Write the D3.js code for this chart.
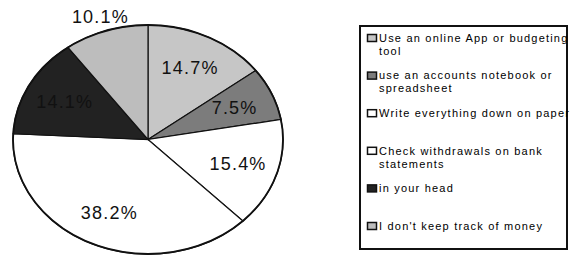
<!DOCTYPE html>
<html>
<head>
<meta charset="UTF-8">
<script src="https://cdn.jsdelivr.net/npm/d3@7/dist/d3.min.js"></script>
<style>
  body { margin: 0; background: #fff; }
  text { font-family: Arial, "Liberation Sans", sans-serif; }
  .slice { stroke: #111; stroke-width: 1.2; vector-effect: non-scaling-stroke; }
  .pct { font-size: 18px; fill: #111; letter-spacing: 1.2px; }
  .leg { font-size: 11px; fill: #000; letter-spacing: 1.2px; }
</style>
</head>
<body>
<svg id="chart" width="570" height="256"></svg>
<script>
  // answers, clockwise from 12 o'clock
  var categories = [
    ["Use an online App or budgeting", "tool"],
    ["use an accounts notebook or", "spreadsheet"],
    ["Write everything down on paper"],
    ["Check withdrawals on bank", "statements"],
    ["in your head"],
    ["I don't keep track of money"]
  ];
  var shares = [14.7, 7.5, 15.4, 38.2, 14.1, 10.1];
  var fills = ["#c6c6c6", "#7c7c7c", "#ffffff", "#ffffff", "#222222", "#bdbdbd"];

  var svg = d3.select("#chart");

  // pie is an ellipse, so draw on a unit circle and stretch it
  var cx = 148, cy = 139.5, rx = 135, ry = 114.5;

  var pie = d3.pie().sort(null).value(function (d) { return d; });
  var arcs = pie(shares);
  var arc = d3.arc().innerRadius(0).outerRadius(1);
  var labelArc = d3.arc().innerRadius(0.7).outerRadius(0.7);
  var outerLabelArc = d3.arc().innerRadius(1.13).outerRadius(1.13);

  var g = svg.append("g").attr("transform", "translate(" + cx + "," + cy + ")");

  g.append("g")
    .attr("transform", "scale(" + rx + "," + ry + ")")
    .selectAll("path")
    .data(arcs)
    .enter()
    .append("path")
    .attr("class", "slice")
    .attr("d", arc)
    .style("fill", function (d, i) { return fills[i]; });

  // outline a bit heavier
  g.append("ellipse")
    .attr("rx", rx).attr("ry", ry)
    .style("fill", "none").style("stroke", "#111").style("stroke-width", 1.8);

  // the last slice has its label pushed outside
  g.selectAll("text.pct")
    .data(arcs)
    .enter()
    .append("text")
    .attr("class", "pct")
    .attr("text-anchor", "middle")
    .attr("dy", "0.36em")
    .attr("x", function (d, i) {
      var c = (i == arcs.length - 1 ? outerLabelArc : labelArc).centroid(d);
      return c[0] * rx;
    })
    .attr("y", function (d, i) {
      var c = (i == arcs.length - 1 ? outerLabelArc : labelArc).centroid(d);
      return c[1] * ry;
    })
    .text(function (d) { return d.data.toFixed(1) + "%"; });

  // legend
  var legend = svg.append("g").attr("transform", "translate(360,26)");

  legend.append("rect")
    .attr("width", 207).attr("height", 223)
    .style("fill", "#fff").style("stroke", "#111").style("stroke-width", 2);

  var rowY = d3.scalePoint().domain(d3.range(categories.length)).range([12, 200]);

  var items = legend.selectAll("g.item")
    .data(categories)
    .enter()
    .append("g")
    .attr("class", "item")
    .attr("transform", function (d, i) { return "translate(0," + rowY(i) + ")"; });

  items.append("rect")
    .attr("x", 7.5).attr("y", -3.5)
    .attr("width", 9).attr("height", 7)
    .style("fill", function (d, i) { return fills[i]; })
    .style("stroke", "#111").style("stroke-width", 1.5);

  items.append("text")
    .attr("class", "leg")
    .selectAll("tspan")
    .data(function (d) { return d; })
    .enter()
    .append("tspan")
    .attr("x", 19)
    .attr("y", function (d, j) { return j * 13; })
    .attr("dy", "0.35em")
    .text(function (d) { return d; });
</script>
</body>
</html>
